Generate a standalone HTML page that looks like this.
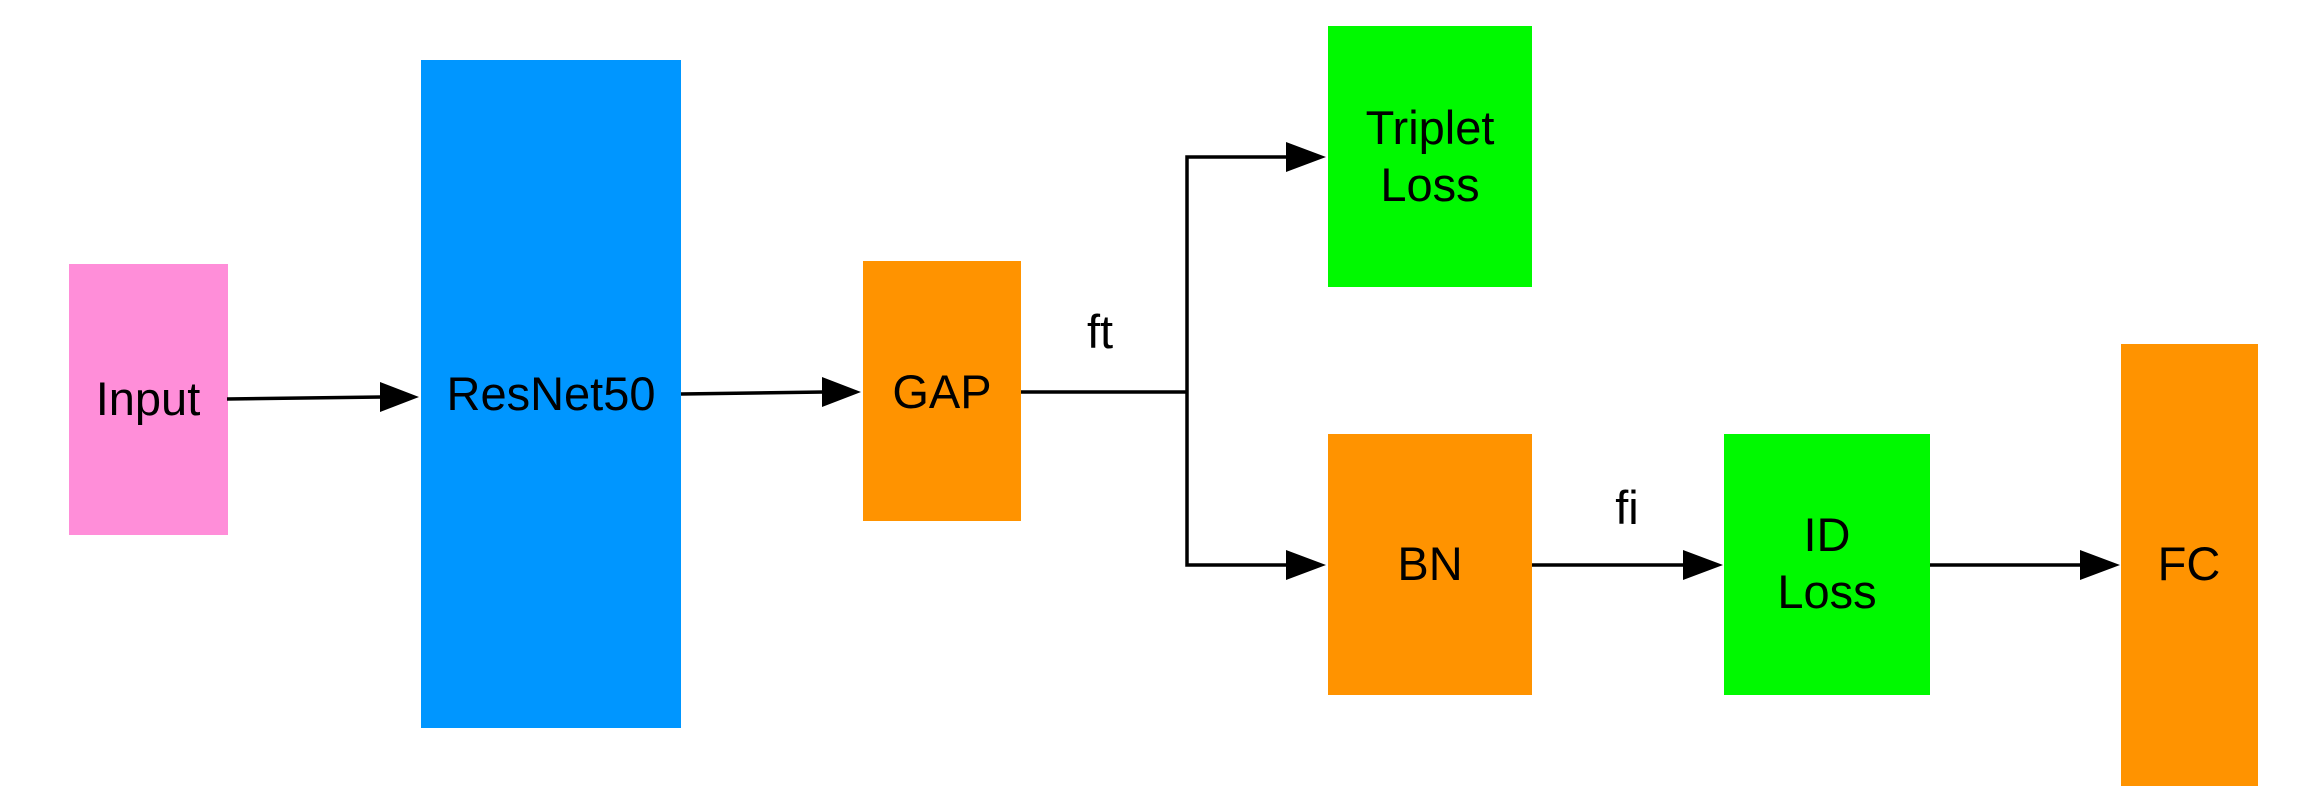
<!DOCTYPE html>
<html><head><meta charset="utf-8"><style>html,body{margin:0;padding:0;background:#fff}svg{display:block}</style></head>
<body>
<svg width="2305" height="811" viewBox="0 0 2305 811" xmlns="http://www.w3.org/2000/svg" font-family="Liberation Sans, sans-serif" font-size="47" text-anchor="middle" fill="#000">
<rect x="0" y="0" width="2305" height="811" fill="#fff"/>
<rect x="69" y="264" width="159" height="271" fill="#FF8ED9"/>
<rect x="421" y="60" width="260" height="668" fill="#0096FF"/>
<rect x="863" y="261" width="158" height="260" fill="#FF9300"/>
<rect x="1328" y="26" width="204" height="261" fill="#00F900"/>
<rect x="1328" y="434" width="204" height="261" fill="#FF9300"/>
<rect x="1724" y="434" width="206" height="261" fill="#00F900"/>
<rect x="2121" y="344" width="137" height="442" fill="#FF9300"/>
<g stroke="#000" stroke-width="3.5" fill="none">
<line x1="227" y1="399" x2="382" y2="397"/>
<line x1="681" y1="394" x2="824" y2="392"/>
<line x1="1021" y1="392" x2="1187" y2="392"/>
<polyline points="1286,157 1187,157 1187,565 1286,565"/>
<line x1="1532" y1="565" x2="1686" y2="565"/>
<line x1="1930" y1="565" x2="2082" y2="565"/>
</g>
<g fill="#000">
<polygon points="380,382 419,397 380,412"/>
<polygon points="822,377 861,392 822,407"/>
<polygon points="1286,142 1326,157 1286,172"/>
<polygon points="1286,550 1326,565 1286,580"/>
<polygon points="1683,550 1723,565 1683,580"/>
<polygon points="2080,550 2120,565 2080,580"/>
</g>
<text x="148" y="415">Input</text>
<text x="551" y="410">ResNet50</text>
<text x="942" y="408">GAP</text>
<text x="1100" y="348">ft</text>
<text x="1430" y="144">Triplet</text>
<text x="1430" y="201">Loss</text>
<text x="1430" y="580">BN</text>
<text x="1627" y="524">fi</text>
<text x="1827" y="551">ID</text>
<text x="1827" y="608">Loss</text>
<text x="2189" y="580">FC</text>
</svg>
</body></html>
